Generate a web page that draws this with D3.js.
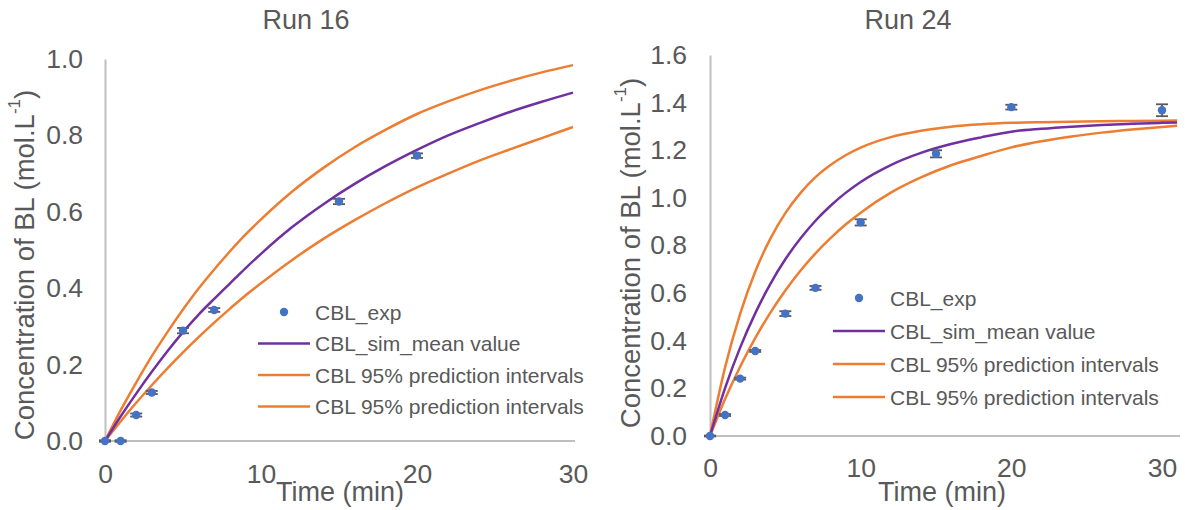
<!DOCTYPE html>
<html>
<head>
<meta charset="utf-8">
<script src="https://cdn.jsdelivr.net/npm/d3@7"></script>
<style>
  body { margin: 0; background: #fff; }
  text { font-family: "Liberation Sans", Arial, sans-serif; fill: #595959; }
</style>
</head>
<body>
<div id="chart"></div>
<script>
// Run 16 - measured points (time in min, concentration in mol/L)
var run16Time = [0, 1, 2, 3, 5, 7, 15, 20];
var run16Exp  = [0, 0, 0.068, 0.127, 0.289, 0.343, 0.627, 0.747];
var run16Err  = [0.002, 0.002, 0.004, 0.004, 0.007, 0.005, 0.007, 0.006];

// Run 16 - simulated curves
var run16SimTime = [0, 1, 2, 3, 4, 5, 6, 7, 8, 9, 10, 12, 14, 16, 18, 20, 22, 24, 26, 28, 30];
var run16Mean  = [0, 0.064, 0.124, 0.181, 0.235, 0.285, 0.331, 0.372, 0.412, 0.452, 0.49, 0.56, 0.62, 0.673, 0.72, 0.762, 0.80, 0.832, 0.862, 0.888, 0.912];
var run16Upper = [0, 0.080, 0.153, 0.222, 0.285, 0.344, 0.399, 0.449, 0.496, 0.540, 0.580, 0.653, 0.715, 0.769, 0.815, 0.856, 0.889, 0.918, 0.943, 0.965, 0.984];
var run16Lower = [0, 0.051, 0.100, 0.146, 0.190, 0.232, 0.272, 0.310, 0.346, 0.381, 0.413, 0.474, 0.529, 0.578, 0.623, 0.664, 0.700, 0.734, 0.764, 0.793, 0.822];

// Run 24 - measured points
var run24Time = [0, 1, 2, 3, 5, 7, 10, 15, 20, 30];
var run24Exp  = [0, 0.088, 0.241, 0.357, 0.514, 0.622, 0.897, 1.185, 1.381, 1.368];
var run24Err  = [0.002, 0.004, 0.004, 0.004, 0.01, 0.008, 0.013, 0.015, 0.01, 0.025];

// Run 24 - simulated curves
var run24SimTime = [0, 1, 2, 3, 4, 5, 6, 7, 8, 9, 10, 12, 14, 16, 18, 20, 22, 24, 26, 28, 30, 31];
var run24Mean  = [0, 0.201, 0.371, 0.515, 0.638, 0.742, 0.829, 0.904, 0.967, 1.021, 1.067, 1.138, 1.189, 1.226, 1.254, 1.278, 1.290, 1.299, 1.306, 1.311, 1.315, 1.317];
var run24Upper = [0, 0.288, 0.513, 0.690, 0.828, 0.936, 1.020, 1.087, 1.138, 1.179, 1.211, 1.255, 1.282, 1.299, 1.309, 1.315, 1.318, 1.320, 1.322, 1.323, 1.324, 1.325];
var run24Lower = [0, 0.155, 0.291, 0.411, 0.517, 0.611, 0.694, 0.767, 0.831, 0.888, 0.938, 1.022, 1.086, 1.137, 1.176, 1.212, 1.238, 1.258, 1.274, 1.287, 1.298, 1.303];

var legendLabels = ["CBL_exp", "CBL_sim_mean value", "CBL 95% prediction intervals", "CBL 95% prediction intervals"];

var purple = "#7030a0", orange = "#ed7d31", blue = "#4472c4", axisGray = "#bfbfbf";

var svg = d3.select("#chart").append("svg")
    .attr("width", 1185)
    .attr("height", 510);

function drawPanel(opt) {
    var g = svg.append("g");
    var x = d3.scaleLinear().domain([0, 30]).range(opt.xRange);
    var y = d3.scaleLinear().domain([0, opt.yMax]).range(opt.yRange);

    // axes (no tick marks, just the gray axis line)
    var yAxis = g.append("g")
        .attr("transform", "translate(" + opt.xRange[0] + ",0)")
        .call(d3.axisLeft(y).tickValues(d3.range(0, opt.yMax + 0.001, 0.2))
            .tickFormat(d3.format(".1f")).tickSize(0).tickPadding(opt.yPad));
    var xAxis = g.append("g")
        .attr("transform", "translate(0," + opt.yRange[0] + ")")
        .call(d3.axisBottom(x).tickValues([0, 10, 20, 30])
            .tickSize(0).tickPadding(opt.xPad));
    [xAxis, yAxis].forEach(function(a) {
        a.select(".domain").attr("stroke", axisGray).attr("stroke-width", 2);
        a.selectAll("text").style("font-size", "26.5px").attr("fill", "#595959")
            .style("font-family", "Liberation Sans, Arial, sans-serif");
    });
    // x axis line runs a little past 30 on the right panel
    xAxis.select(".domain").attr("d", "M" + opt.xRange[0] + ",0H" + opt.xEnd);

    // simulated lines
    var series = [
        {v: opt.upper, c: orange},
        {v: opt.lower, c: orange},
        {v: opt.mean, c: purple}
    ];
    series.forEach(function(s) {
        var line = d3.line()
            .x(function(d, i) { return x(opt.simTime[i]); })
            .y(function(d) { return y(d); })
            .curve(d3.curveMonotoneX);
        g.append("path")
            .datum(s.v)
            .attr("fill", "none")
            .attr("stroke", s.c)
            .attr("stroke-width", 2.5)
            .attr("d", line);
    });

    // error bars then markers on top
    var pts = opt.time.map(function(t, i) { return {t: t, v: opt.exp[i], e: opt.err[i]}; });
    var eb = g.append("g").attr("stroke", "#595959").attr("stroke-width", 1.8);
    pts.forEach(function(p) {
        var cx = x(p.t), y0 = y(p.v - p.e), y1 = y(p.v + p.e);
        eb.append("line").attr("x1", cx).attr("x2", cx).attr("y1", y0).attr("y2", y1);
        eb.append("line").attr("x1", cx - 6).attr("x2", cx + 6).attr("y1", y0).attr("y2", y0);
        eb.append("line").attr("x1", cx - 6).attr("x2", cx + 6).attr("y1", y1).attr("y2", y1);
    });
    g.selectAll("circle.pt").data(pts).enter().append("circle")
        .attr("class", "pt")
        .attr("cx", function(d) { return x(d.t); })
        .attr("cy", function(d) { return y(d.v); })
        .attr("r", 4.2)
        .attr("fill", blue);

    // title
    g.append("text").attr("x", opt.titleX).attr("y", 20)
        .attr("text-anchor", "middle").attr("dominant-baseline", "central")
        .style("font-size", "27px").text(opt.title);

    // axis titles
    g.append("text").attr("x", opt.timeX).attr("y", 492)
        .attr("text-anchor", "middle").attr("dominant-baseline", "central")
        .style("font-size", "27px").text("Time (min)");
    var yl = g.append("text")
        .attr("transform", "translate(" + opt.yLabX + "," + opt.yLabY + ") rotate(-90)")
        .attr("text-anchor", "middle").attr("dominant-baseline", "central")
        .style("font-size", "27.5px");
    yl.append("tspan").text("Concentration of BL (mol.L");
    yl.append("tspan").attr("dy", -10).style("font-size", "17px").text("-1");
    yl.append("tspan").attr("dy", 10).text(")");

    // legend
    var lg = g.append("g");
    legendLabels.forEach(function(lab, i) {
        var ry = opt.legY + i * opt.legStep;
        if (i === 0) {
            lg.append("circle").attr("cx", (opt.legX0 + opt.legX1) / 2).attr("cy", ry)
                .attr("r", 4.2).attr("fill", blue);
        } else {
            lg.append("line").attr("x1", opt.legX0).attr("x2", opt.legX1)
                .attr("y1", ry).attr("y2", ry)
                .attr("stroke", i === 1 ? purple : orange).attr("stroke-width", 2.5);
        }
        lg.append("text").attr("x", opt.legX1 + 5).attr("y", ry)
            .attr("dominant-baseline", "central")
            .style("font-size", "21px").text(lab);
    });
}

drawPanel({
    title: "Run 16", titleX: 306,
    xRange: [105, 573], xEnd: 575, yRange: [441, 59], yMax: 1.0,
    yPad: 22, xPad: 23,
    time: run16Time, exp: run16Exp, err: run16Err,
    simTime: run16SimTime, mean: run16Mean, upper: run16Upper, lower: run16Lower,
    timeX: 340, yLabX: 24, yLabY: 265,
    legX0: 258, legX1: 310, legY: 312, legStep: 31.5
});

drawPanel({
    title: "Run 24", titleX: 908,
    xRange: [710, 1162], xEnd: 1180, yRange: [436, 55], yMax: 1.6,
    yPad: 23, xPad: 22,
    time: run24Time, exp: run24Exp, err: run24Err,
    simTime: run24SimTime, mean: run24Mean, upper: run24Upper, lower: run24Lower,
    timeX: 942, yLabX: 630, yLabY: 253,
    legX0: 833, legX1: 885, legY: 298, legStep: 33
});
</script>
</body>
</html>
